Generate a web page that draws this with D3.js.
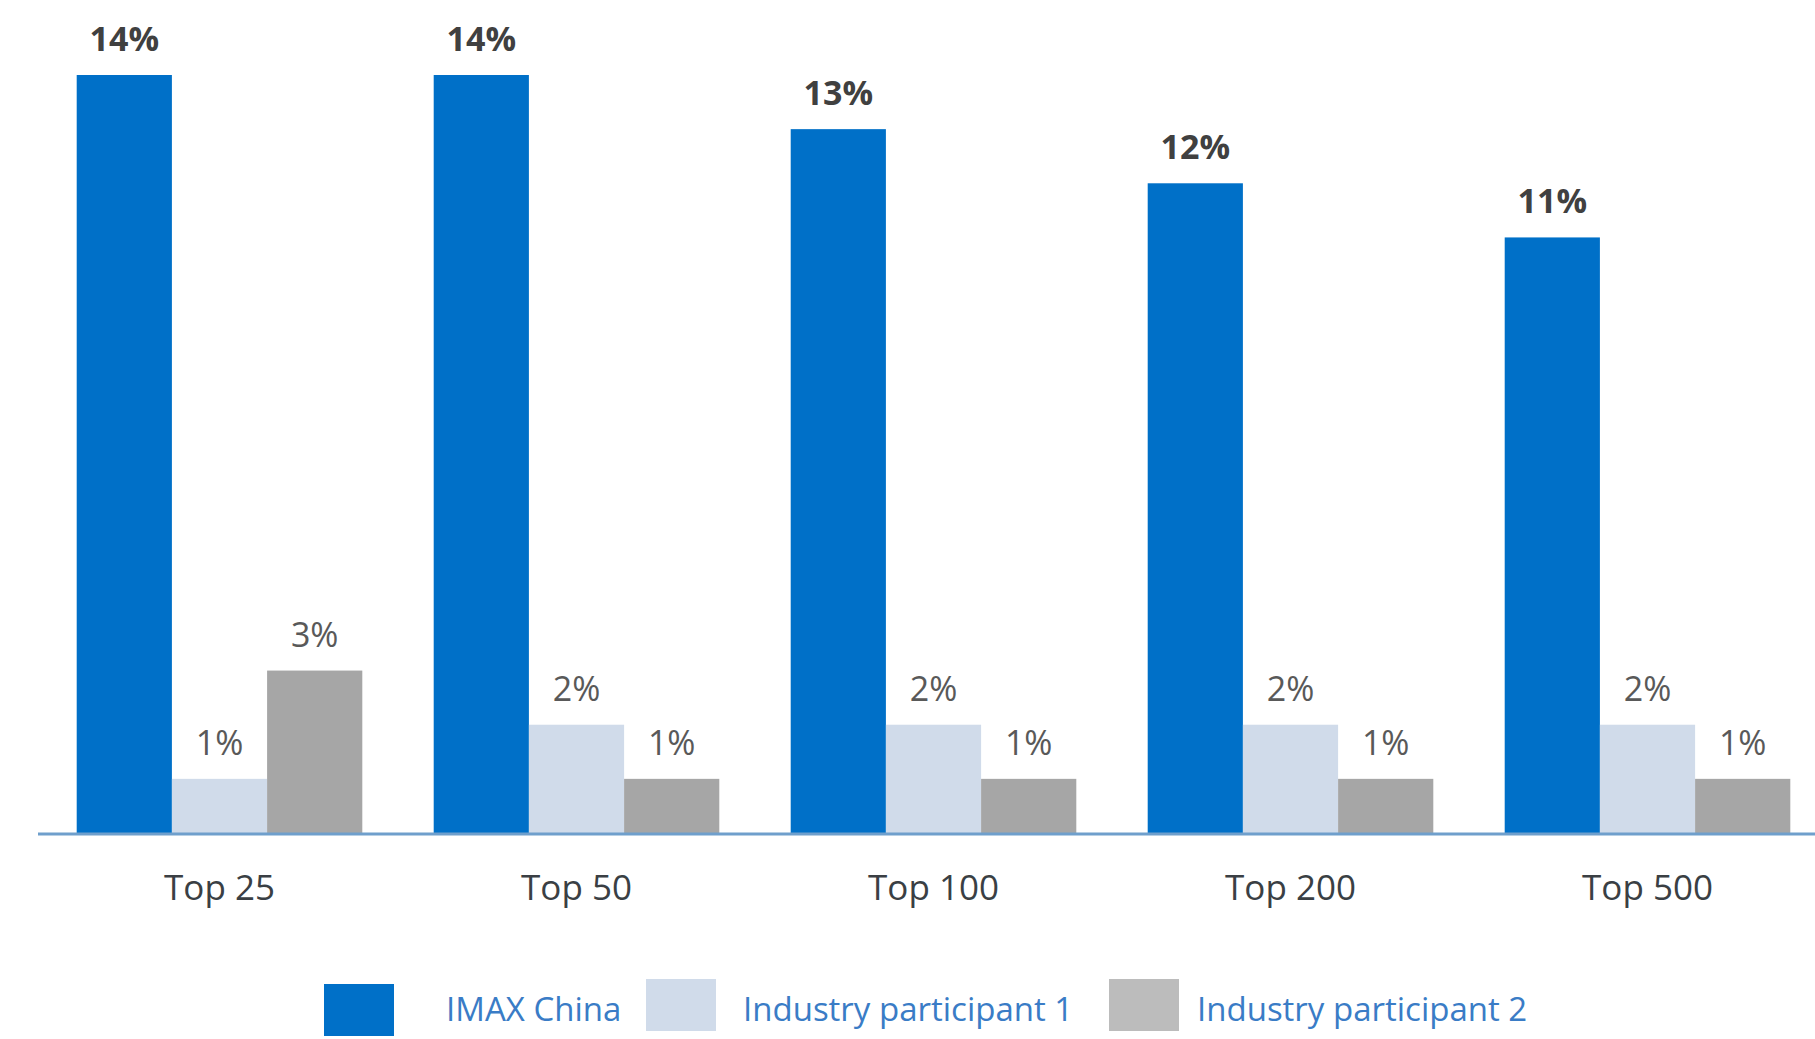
<!DOCTYPE html>
<html>
<head>
<meta charset="utf-8">
<script src="https://cdn.jsdelivr.net/npm/d3@7"></script>
<style>
  body { margin: 0; background: #ffffff; }
  svg { display: block; font-family: "Open Sans", sans-serif; }
</style>
</head>
<body>
<svg id="chart" width="1815" height="1039"></svg>
<script>
// chart data
const categories = ["Top 25", "Top 50", "Top 100", "Top 200", "Top 500"];
const seriesNames = ["IMAX China", "Industry participant 1", "Industry participant 2"];
const imaxChina = [14, 14, 13, 12, 11];
const participant1 = [1, 2, 2, 2, 2];
const participant2 = [3, 1, 1, 1, 1];

const seriesValues = [imaxChina, participant1, participant2];
const colors = ["#0070c8", "#d0dbea", "#a6a6a6"];
const legendColors = ["#0070c8", "#d0dbea", "#bcbcbc"];

const svg = d3.select("#chart");
const baseY = 833;

const x0 = d3.scaleBand()
  .domain(categories)
  .range([41, 1826])
  .paddingInner(0.2)
  .paddingOuter(0.1);

const x1 = d3.scaleBand()
  .domain(seriesNames)
  .range([0, x0.bandwidth()]);

const y = d3.scaleLinear()
  .domain([0, 14])
  .range([baseY, 75]);

// flat table for bars
const rows = [];
categories.forEach(function (cat, i) {
  seriesNames.forEach(function (name, j) {
    rows.push({ cat: cat, series: name, idx: j, value: seriesValues[j][i] });
  });
});

const groups = svg.selectAll(".bar")
  .data(rows)
  .enter()
  .append("g")
  .attr("class", "bar")
  .attr("transform", function (d) {
    return "translate(" + (x0(d.cat) + x1(d.series)) + " 0)";
  });

groups.append("rect")
  .attr("x", 0)
  .attr("y", function (d) { return y(d.value); })
  .attr("width", x1.bandwidth())
  .attr("height", function (d) { return baseY - y(d.value); })
  .attr("fill", function (d) { return colors[d.idx]; });

groups.append("text")
  .attr("x", x1.bandwidth() / 2)
  .attr("y", function (d) { return y(d.value) - 24; })
  .attr("text-anchor", "middle")
  .attr("font-size", 34)
  .attr("font-weight", function (d) { return d.idx === 0 ? 700 : 400; })
  .attr("fill", function (d) { return d.idx === 0 ? "#404040" : "#595959"; })
  .text(function (d) { return d.value + "%"; });

// axis line and category labels
const xAxis = d3.axisBottom(x0).tickSize(0).tickPadding(42);
const axisG = svg.append("g")
  .attr("transform", "translate(0 " + baseY + ")")
  .call(xAxis);
axisG.select(".domain").remove();
axisG.selectAll("text")
  .attr("font-size", 35)
  .attr("font-family", "'Open Sans', sans-serif")
  .attr("fill", "#3a3f44")
  .attr("dy", "0.71em");

svg.append("line")
  .attr("x1", 38)
  .attr("x2", 1815)
  .attr("y1", baseY + 1)
  .attr("y2", baseY + 1)
  .attr("stroke", "#6f9fcc")
  .attr("stroke-width", 3);

// legend
const legendX = [324, 646, 1109];
const legendTextGap = [52, 27, 18];
const legend = svg.selectAll(".legend")
  .data(seriesNames)
  .enter()
  .append("g")
  .attr("class", "legend")
  .attr("transform", function (d, i) {
    return "translate(" + legendX[i] + " 0)";
  });

legend.append("rect")
  .attr("x", 0)
  .attr("y", function (d, i) { return i === 0 ? 984 : 979; })
  .attr("width", 70)
  .attr("height", 52)
  .attr("fill", function (d, i) { return legendColors[i]; });

legend.append("text")
  .attr("x", function (d, i) { return 70 + legendTextGap[i]; })
  .attr("y", 1021)
  .attr("font-size", 33)
  .attr("fill", "#3a7cc6")
  .text(function (d) { return d; });
</script>
</body>
</html>
